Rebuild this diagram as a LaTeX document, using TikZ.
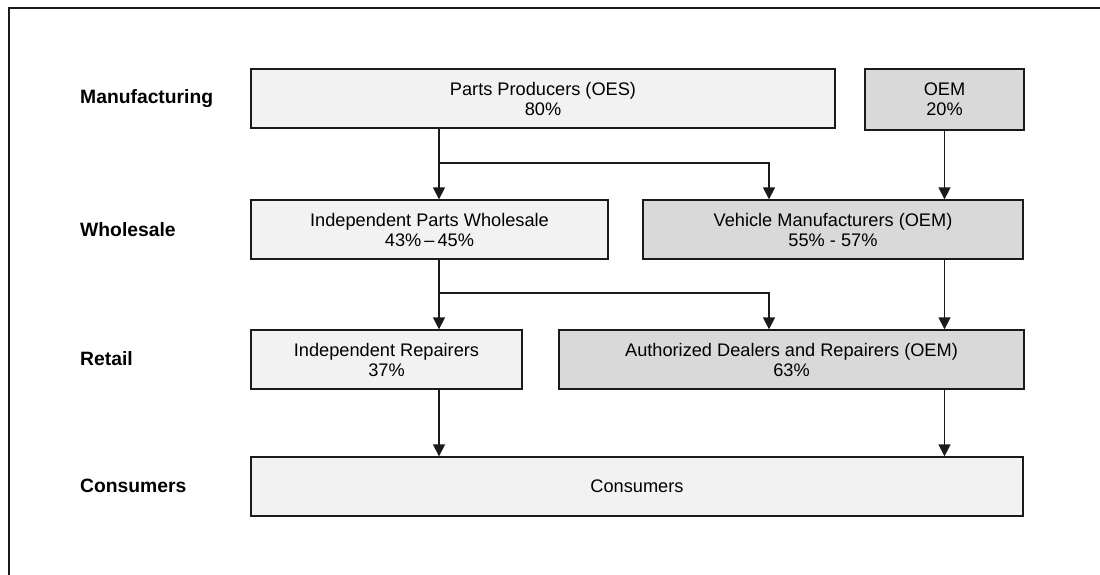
\documentclass[tikz,border=0pt]{standalone}
\usepackage{fontspec}
\setmainfont{Liberation Sans}
\usetikzlibrary{arrows.meta}
\definecolor{boxlight}{HTML}{F2F2F2}
\definecolor{boxdark}{HTML}{D9D9D9}
\definecolor{ink}{HTML}{1A1A1A}
\begin{document}
\begin{tikzpicture}[x=1pt,y=-1pt,
  stagebox/.style={draw=ink, line width=1.4pt, rectangle, inner sep=0pt,
    align=center, font=\fontsize{18.2}{20}\selectfont},
  lightbox/.style={stagebox, fill=boxlight},
  darkbox/.style={stagebox, fill=boxdark},
  level/.style={anchor=west, inner sep=0pt, font=\fontsize{19.3}{22}\selectfont\bfseries},
  flow/.style={draw=ink, line width=1.7pt, -{Triangle[width=12pt,length=12pt]}},
  ]
\useasboundingbox (0,0) rectangle (1100,574);
\begin{scope}
  \clip (0,0) rectangle (1100,574);
  \draw[draw=ink, line width=1.6pt] (9,8) rectangle (1120,600);
\end{scope}

% stage boxes
\node[lightbox, minimum width=584, minimum height=59] (pp)  at (543,98.5) {Parts Producers (OES)\\80\%};
\node[darkbox,  minimum width=159, minimum height=61] (oem) at (944.5,99.5) {OEM\\20\%};
\node[lightbox, minimum width=357, minimum height=59] (ipw) at (429.5,229.5) {Independent Parts Wholesale\\43\%\,--\,45\%};
\node[darkbox,  minimum width=380, minimum height=59] (vm)  at (833,229.5) {Vehicle Manufacturers (OEM)\\55\% - 57\%};
\node[lightbox, minimum width=271, minimum height=59] (ir)  at (386.5,359.5) {Independent Repairers\\37\%};
\node[darkbox,  minimum width=465, minimum height=59] (ad)  at (791.5,359.5) {Authorized Dealers and Repairers (OEM)\\63\%};
\node[lightbox, minimum width=772, minimum height=59] (con) at (637,486.5) {Consumers};

% level labels
\node[level] (lm) at (80,99)  {Manufacturing};
\node[level] (lw) at (80,230) {Wholesale};
\node[level] (lr) at (80,359) {Retail};
\node[level] (lc) at (80,486) {Consumers};

% flow columns and branch points
\coordinate (xa) at (439,0);
\coordinate (xb) at (769,0);
\coordinate (xc) at (944.5,0);
\coordinate (j1) at (439,163);
\coordinate (j2) at (439,293);

\draw[flow] (pp.south -| xa) -- (ipw.north -| xa);
\draw[flow] (j1) -| (vm.north -| xb);
\draw[flow] (oem.south -| xc) -- (vm.north -| xc);
\draw[flow] (ipw.south -| xa) -- (ir.north -| xa);
\draw[flow] (j2) -| (ad.north -| xb);
\draw[flow] (vm.south -| xc) -- (ad.north -| xc);
\draw[flow] (ir.south -| xa) -- (con.north -| xa);
\draw[flow] (ad.south -| xc) -- (con.north -| xc);
\end{tikzpicture}
\end{document}
